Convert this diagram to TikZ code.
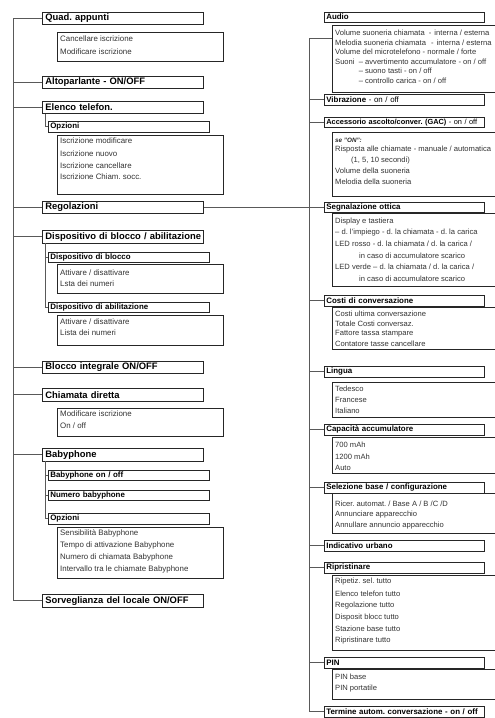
\documentclass[tikz,border=0pt]{standalone}
\usepackage{fontspec}
\setmainfont{Liberation Sans}
\begin{document}
\frenchspacing
\begin{tikzpicture}[x=1pt,y=-1pt,
  ln/.style={draw=black!65, line width=0.8pt},
  hdr/.style={draw=black!85, line width=0.8pt, anchor=north west, minimum height=12.5pt,
    text width=155pt, inner xsep=3pt, inner ysep=0pt, align=left,
    font=\fontsize{9.4}{10}\selectfont\bfseries},
  shd/.style={draw=black!85, line width=0.7pt, anchor=north west, minimum height=10.5pt,
    text width=157pt, inner xsep=2pt, inner ysep=0pt, align=left,
    font=\fontsize{7.9}{9}\selectfont\bfseries},
  rh/.style={draw=black!85, line width=0.7pt, anchor=north west, minimum height=10.5pt,
    text width=156pt, inner xsep=2pt, inner ysep=0pt, align=left,
    font=\fontsize{7.9}{9}\selectfont\bfseries},
  sb/.style={draw=black!85, line width=0.7pt, anchor=north west, inner sep=0pt, minimum width=166pt},
  rsb/.style={draw=black!85, line width=0.7pt, anchor=north west, inner sep=0pt, minimum width=170pt},
  t/.style={anchor=west, inner sep=0pt, font=\fontsize{7.9}{9}\selectfont, text=black!80},
  rt/.style={anchor=west, inner sep=0pt, font=\fontsize{7.6}{9}\selectfont, text=black!80},
  tsm/.style={anchor=west, inner sep=0pt, font=\fontsize{6.3}{7}\selectfont\bfseries\itshape, text=black!85}
]
\useasboundingbox (0,0) rectangle (495,718);
\clip (0,0) rectangle (495,718);
\coordinate (L0) at (13,0);
\coordinate (L1) at (45,0);
\coordinate (R0) at (309,0);

% ---------- left column ----------
\node[hdr] (quad) at (42,11.5) {Quad. appunti};
\node[sb, minimum height=29pt] (quadS) at (57,32) {};
\node[t] (q1) at (60,39) {Cancellare iscrizione};
\node[t] (q2) at (60,52) {Modificare iscrizione};

\node[hdr] (alto) at (42,75.5) {Altoparlante - ON/OFF};

\node[hdr] (elenco) at (42,100.5) {Elenco telefon.};
\node[shd] (eop) at (48,121) {Opzioni};
\node[sb, minimum height=59pt] (eS) at (57,135) {};
\node[t] (e1) at (60,141) {Iscrizione modificare};
\node[t] (e2) at (60,153.5) {Iscrizione nuovo};
\node[t] (e3) at (60,165.5) {Iscrizione cancellare};
\node[t] (e4) at (60,177) {Iscrizione Chiam. socc.};

\node[hdr] (regol) at (42,200.5) {Regolazioni};

\node[hdr] (disp) at (42,230) {\mbox{Dispositivo di blocco / abilitazione}};
\node[shd] (dblo) at (48,251.5) {Dispositivo di blocco};
\node[sb, minimum height=29pt] (dbS) at (57,264) {};
\node[t] (d1) at (60,273) {Attivare / disattivare};
\node[t] (d2) at (60,284) {Lsta dei numeri};
\node[shd] (dabi) at (48,301.5) {Dispositivo di abilitazione};
\node[sb, minimum height=30pt] (daS) at (57,315) {};
\node[t] (d3) at (60,322) {Attivare / disattivare};
\node[t] (d4) at (60,333) {Lista dei numeri};

\node[hdr] (bint) at (42,360.5) {Blocco integrale ON/OFF};

\node[hdr] (chiam) at (42,388) {Chiamata diretta};
\node[sb, minimum height=28pt] (chS) at (57,408) {};
\node[t] (c1) at (60,414) {Modificare iscrizione};
\node[t] (c2) at (60,426) {On / off};

\node[hdr] (baby) at (42,448) {Babyphone};
\node[shd] (bon) at (48,469.5) {Babyphone on / off};
\node[shd] (bnum) at (48,489.5) {Numero babyphone};
\node[shd] (bop) at (48,513) {Opzioni};
\node[sb, minimum height=51pt] (bS) at (57,527) {};
\node[t] (b1) at (60,533) {Sensibilità Babyphone};
\node[t] (b2) at (60,545) {Tempo di attivazione Babyphone};
\node[t] (b3) at (60,557) {Numero di chiamata Babyphone};
\node[t] (b4) at (60,569) {Intervallo tra le chiamate Babyphone};

\node[hdr] (sorv) at (42,594) {\mbox{Sorveglianza del locale ON/OFF}};

% left connectors
\draw[ln] (quad.west) -| (L0 |- sorv.west) -- (sorv.west);
\foreach \n in {alto,elenco,regol,disp,bint,chiam,baby}
  \draw[ln] (\n.west) -- (\n.west -| L0);
\draw[ln] (elenco.south -| L1) |- (eop.west);
\draw[ln] (disp.south -| L1) |- (dabi.west);
\draw[ln] (dblo.west) -- (dblo.west -| L1);
\draw[ln] (baby.south -| L1) |- (bop.west);
\draw[ln] (bon.west) -- (bon.west -| L1);
\draw[ln] (bnum.west) -- (bnum.west -| L1);

% ---------- right column ----------
\node[rh] (audio) at (324,11.5) {Audio};
\node[rsb, minimum height=67pt] (auS) at (332,25) {};
\node[rt] (a1) at (335,33) {Volume suoneria chiamata\hspace{2pt} - \hspace{1pt}interna / esterna};
\node[rt] (a2) at (335,42.5) {Melodia suoneria chiamata\hspace{3pt} - \hspace{1pt}interna / esterna};
\node[rt] (a3) at (335,52) {Volume del microtelefono - normale / forte};
\node[rt] (a4) at (335,61.5) {Suoni \ – avvertimento accumulatore - on / off};
\node[rt] (a5) at (335,71) {\phantom{Suoni \ }– suono tasti - on / off};
\node[rt] (a6) at (335,80.5) {\phantom{Suoni \ }– controllo carica - on / off};

\node[rh] (vib) at (324,94) {Vibrazione{\mdseries{} - on / off}};

\node[rh, font=\fontsize{7.4}{9}\selectfont\bfseries] (acc) at (324,116.5) {\mbox{Accessorio ascolto/conver. (GAC){\mdseries{} - on / off}}};
\node[rsb, minimum height=64pt] (accS) at (332,132) {};
\node[tsm] (s1) at (335,140) {se "ON":};
\node[rt] (s2) at (335,150) {Risposta alle chiamate - manuale / automatica};
\node[rt] (s3) at (351,160.5) {(1, 5, 10 secondi)};
\node[rt] (s4) at (335,171) {Volume della suoneria};
\node[rt] (s5) at (335,182) {Melodia della suoneria};

\node[rh] (segn) at (324,201.5) {Segnalazione ottica};
\node[rsb, minimum height=73pt] (seS) at (332,213) {};
\node[rt] (g1) at (335,222) {Display e tastiera};
\node[rt] (g2) at (335,233) {– d. l'impiego - d. la chiamata - d. la carica};
\node[rt] (g3) at (335,244) {LED rosso - d. la chiamata / d. la carica /};
\node[rt] (g4) at (359,256) {in caso di accumulatore scarico};
\node[rt] (g5) at (335,267) {LED verde – d. la chiamata / d. la carica /};
\node[rt] (g6) at (359,278.5) {in caso di accumulatore scarico};

\node[rh] (costi) at (324,295) {Costi di conversazione};
\node[rsb, minimum height=42pt] (coS) at (332,307) {};
\node[rt] (k1) at (335,314) {Costi ultima conversazione};
\node[rt] (k2) at (335,324) {Totale Costi conversaz.};
\node[rt] (k3) at (335,334) {Fattore tassa stampare};
\node[rt] (k4) at (335,343.5) {Contatore tasse cancellare};

\node[rh] (lingua) at (324,366) {Lingua};
\node[rsb, minimum height=35pt] (liS) at (332,382) {};
\node[rt] (l1) at (335,388.5) {Tedesco};
\node[rt] (l2) at (335,399.5) {Francese};
\node[rt] (l3) at (335,410.5) {Italiano};

\node[rh] (cap) at (324,424) {Capacità accumulatore};
\node[rsb, minimum height=36pt] (caS) at (332,437) {};
\node[rt] (p1) at (335,445) {700 mAh};
\node[rt] (p2) at (335,457) {1200 mAh};
\node[rt] (p3) at (335,468) {Auto};

\node[rh] (sel) at (324,482) {Selezione base / configurazione};
\node[rsb, minimum height=40pt] (selS) at (332,493) {};
\node[rt] (v1) at (335,504) {Ricer. automat. / Base A / B /C /D};
\node[rt] (v2) at (335,515) {Annunciare apparecchio};
\node[rt] (v3) at (335,526) {Annullare annuncio apparecchio};

\node[rh] (ind) at (324,540) {Indicativo urbano};

\node[rh] (rip) at (324,562) {Ripristinare};
\node[rsb, minimum height=75pt] (ripS) at (332,575) {};
\node[rt] (r1) at (335,582) {Ripetiz. sel. tutto};
\node[rt] (r2) at (335,594) {Elenco telefon tutto};
\node[rt] (r3) at (335,606) {Regolazione tutto};
\node[rt] (r4) at (335,617.5) {Disposit blocc tutto};
\node[rt] (r5) at (335,629) {Stazione base tutto};
\node[rt] (r6) at (335,641) {Ripristinare tutto};

\node[rh] (pin) at (324,657) {PIN};
\node[rsb, minimum height=30pt] (pinS) at (332,669) {};
\node[rt] (n1) at (335,677) {PIN base};
\node[rt] (n2) at (335,688.5) {PIN portatile};

\node[rh] (term) at (324,706) {\mbox{Termine autom. conversazione - on / off}};

% right connectors
\coordinate (A) at (332,38);
\draw[ln] (A) -| (R0 |- term.west) -- (term.west);
\foreach \n in {vib,acc,costi,lingua,cap,sel,ind,rip,pin}
  \draw[ln] (\n.west) -- (\n.west -| R0);
\draw[ln] (regol.east) -- (regol.east -| segn.west);
\end{tikzpicture}
\end{document}
